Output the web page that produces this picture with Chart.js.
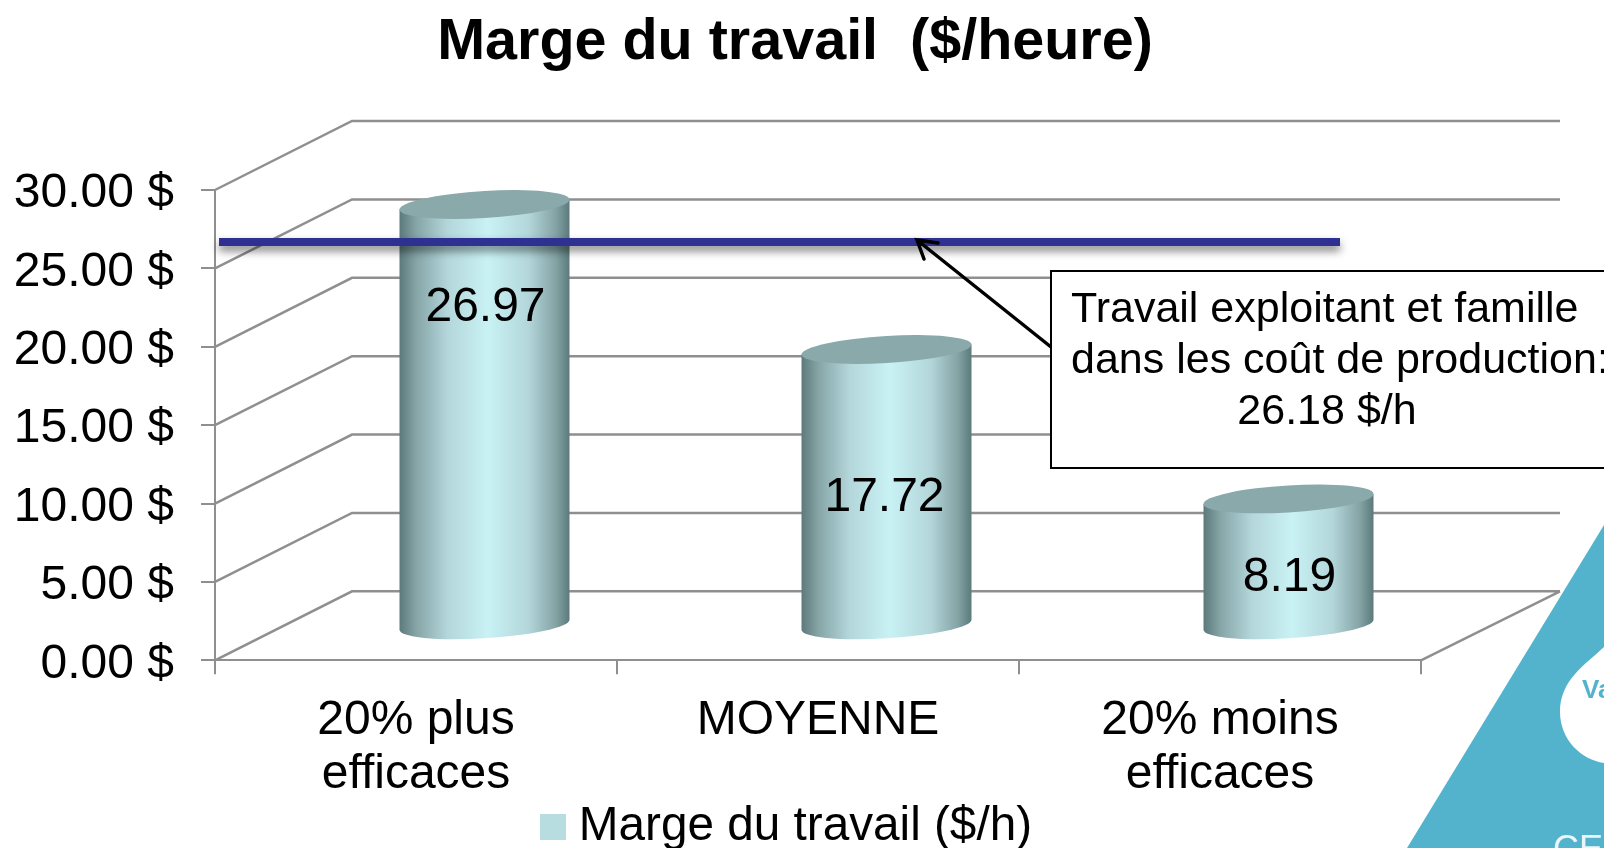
<!DOCTYPE html>
<html><head><meta charset="utf-8">
<style>html,body{margin:0;padding:0;background:#fff}canvas{display:block}</style>
<script src="https://cdn.jsdelivr.net/npm/chart.js@4"></script>
</head><body>
<div style="width:1604px;height:848px"><canvas id="c" width="1604" height="848"></canvas></div>
<script>
const categories = [['20% plus','efficaces'],'MOYENNE',['20% moins','efficaces']];
const marge = [26.97,17.72,8.19];
const seriesName = 'Marge du travail ($/h)';
const titleText = 'Marge du travail  ($/heure)';
const referenceValue = 26.18;
const noteLines = ['Travail exploitant et famille','dans les coût de production:','26.18 $/h'];

const FONT = '"Liberation Sans", Arial, sans-serif';
const GRID = '#8f8f8f', DX = 137, DY = 69, WALL_END = 1560;
const labelDrop = [105,149.5,80.5], labelShift = [1,-2,1];
const SHEAR = -5/85;

class Cylinder extends Chart.BarElement {
  static id = 'cylinder';
  draw(ctx){
    const {x,y,base,width} = this.getProps(['x','y','base','width']);
    const a = width/2, b = 13.5, top = y-DY/2+1.5, bot = base-DY/2, cx = x+DX/2;
    ctx.save();
    ctx.transform(1,SHEAR,0,1,cx,0);
    const g = ctx.createLinearGradient(-a,0,a,0);
    g.addColorStop(0,'#5c7a7c'); g.addColorStop(.1,'#86a5a7'); g.addColorStop(.28,'#b3d6da');
    g.addColorStop(.52,'#c9f2f5'); g.addColorStop(.76,'#b3d6da'); g.addColorStop(.92,'#84a3a5'); g.addColorStop(1,'#5c7a7c');
    ctx.fillStyle = g;
    ctx.beginPath();
    ctx.moveTo(-a,top); ctx.lineTo(-a,bot);
    ctx.ellipse(0,bot,a,b,0,Math.PI,0,true);
    ctx.lineTo(a,top); ctx.closePath(); ctx.fill();
    ctx.fillStyle = '#8aa9ab';
    ctx.beginPath(); ctx.ellipse(0,top,a,b,0,0,Math.PI*2); ctx.fill();
    ctx.restore();
  }
}
class CylinderController extends Chart.BarController {
  static id = 'cylinder';
  static defaults = {...Chart.BarController.defaults, dataElementType:'cylinder'};
}
Chart.register(Cylinder, CylinderController);

const walls = {
  id:'walls',
  beforeDatasetsDraw(chart){
    const {ctx, scales:{x,y}} = chart;
    // logo
    ctx.save();
    ctx.fillStyle = '#53b3cd';
    ctx.beginPath(); ctx.moveTo(1604,525); ctx.lineTo(1604,848); ctx.lineTo(1407,848); ctx.closePath(); ctx.fill();
    ctx.fillStyle = '#fff';
    ctx.beginPath(); ctx.moveTo(1604,647);
    ctx.bezierCurveTo(1585,665,1560,680,1560,712);
    ctx.bezierCurveTo(1560,740,1582,760,1604,763);
    ctx.closePath(); ctx.fill();
    ctx.font = '700 26px '+FONT; ctx.fillStyle='#53b3cd'; ctx.textBaseline='alphabetic'; ctx.textAlign='left';
    ctx.fillText('Va',1582,698);
    ctx.font = '36px '+FONT; ctx.fillStyle='#eaf6fa';
    ctx.fillText('CE',1553,861);
    // walls
    ctx.strokeStyle = GRID; ctx.lineWidth = 2.5;
    ctx.beginPath();
    y.ticks.forEach(t=>{
      const py = y.getPixelForValue(t.value);
      ctx.moveTo(x.left,py); ctx.lineTo(x.left+DX,py-DY); ctx.lineTo(WALL_END,py-DY);
    });
    ctx.moveTo(x.right,y.bottom); ctx.lineTo(x.right+DX+2,y.bottom-DY);
    ctx.stroke();
    ctx.restore();
  },
  afterDatasetsDraw(chart){
    const {ctx, scales:{y}} = chart;
    const meta = chart.getDatasetMeta(0);
    ctx.save();
    // value labels
    ctx.font = '48px '+FONT; ctx.fillStyle='#000'; ctx.textAlign='center'; ctx.textBaseline='middle';
    meta.data.forEach((el,i)=>{
      ctx.fillText(marge[i].toFixed(2), el.x+DX/2+labelShift[i], el.y-DY/2+labelDrop[i]);
    });
    // reference line
    const ry = y.getPixelForValue(referenceValue)-8;
    ctx.save();
    ctx.shadowColor='rgba(0,0,0,.5)'; ctx.shadowBlur=8; ctx.shadowOffsetY=5;
    ctx.strokeStyle='#2e3192'; ctx.lineWidth=8;
    ctx.beginPath(); ctx.moveTo(219,ry); ctx.lineTo(1340,ry); ctx.stroke();
    ctx.restore();
    // arrow
    ctx.strokeStyle='#000'; ctx.lineWidth=3.5; ctx.lineCap='round';
    ctx.beginPath(); ctx.moveTo(1051,347); ctx.lineTo(917,240);
    ctx.moveTo(938,243); ctx.lineTo(917,240); ctx.lineTo(924,259); ctx.stroke();
    // note
    ctx.fillStyle='#fff'; ctx.strokeStyle='#000'; ctx.lineWidth=2;
    ctx.fillRect(1051,271,560,197); ctx.strokeRect(1051,271,560,197);
    ctx.fillStyle='#000'; ctx.font='43px '+FONT; ctx.textBaseline='middle';
    ctx.textAlign='left';
    ctx.fillText(noteLines[0],1071,310); ctx.fillText(noteLines[1],1071,361);
    ctx.textAlign='center'; ctx.fillText(noteLines[2],1327,412);
    ctx.restore();
  },
  beforeDraw(chart){
    chart.titleBlock.left = 0; chart.titleBlock.right = 1590;
    chart.legend.left = 0; chart.legend.right = 1583;
    chart.legend.top += 13; chart.legend.bottom += 13;
  }
};

const sw = document.createElement('canvas'); sw.width = 26; sw.height = 26;
const sx = sw.getContext('2d'); sx.fillStyle = '#b7dde0'; sx.fillRect(0,0,26,26);

new Chart(document.getElementById('c'),{
  type:'cylinder',
  plugins:[walls],
  data:{labels:categories,datasets:[{label:seriesName,data:marge,backgroundColor:'#b7dde0',barThickness:170,clip:false}]},
  options:{
    responsive:false,animation:false,
    layout:{padding:{left:0,right:183,top:0,bottom:0}},
    plugins:{
      title:{display:true,text:titleText,color:'#000',font:{family:FONT,size:57.5,weight:'bold',lineHeight:1.2},padding:{top:9,bottom:112}},
      legend:{display:true,position:'bottom',labels:{usePointStyle:true,pointStyle:sw,pointStyleWidth:4,boxHeight:26,padding:0,color:'#000',font:{family:FONT,size:47.7}}},
      tooltip:{enabled:false}
    },
    scales:{
      x:{grid:{drawOnChartArea:false,color:GRID,lineWidth:2,tickLength:14,offset:true},border:{color:GRID,width:2},
         ticks:{color:'#000',padding:19,maxRotation:0,autoSkip:false,font:{family:FONT,size:48,lineHeight:1.13}},
         afterFit(s){s.height=130;}},
      y:{min:0,max:30,grid:{drawOnChartArea:false,color:GRID,lineWidth:2,tickLength:14},border:{color:GRID,width:2},
         ticks:{stepSize:5,color:'#000',padding:27,labelOffset:4,font:{family:FONT,size:48},callback:v=>v.toFixed(2)+' $'},
         afterFit(s){s.width=215;}}
    }
  }
});
</script>
</body></html>
